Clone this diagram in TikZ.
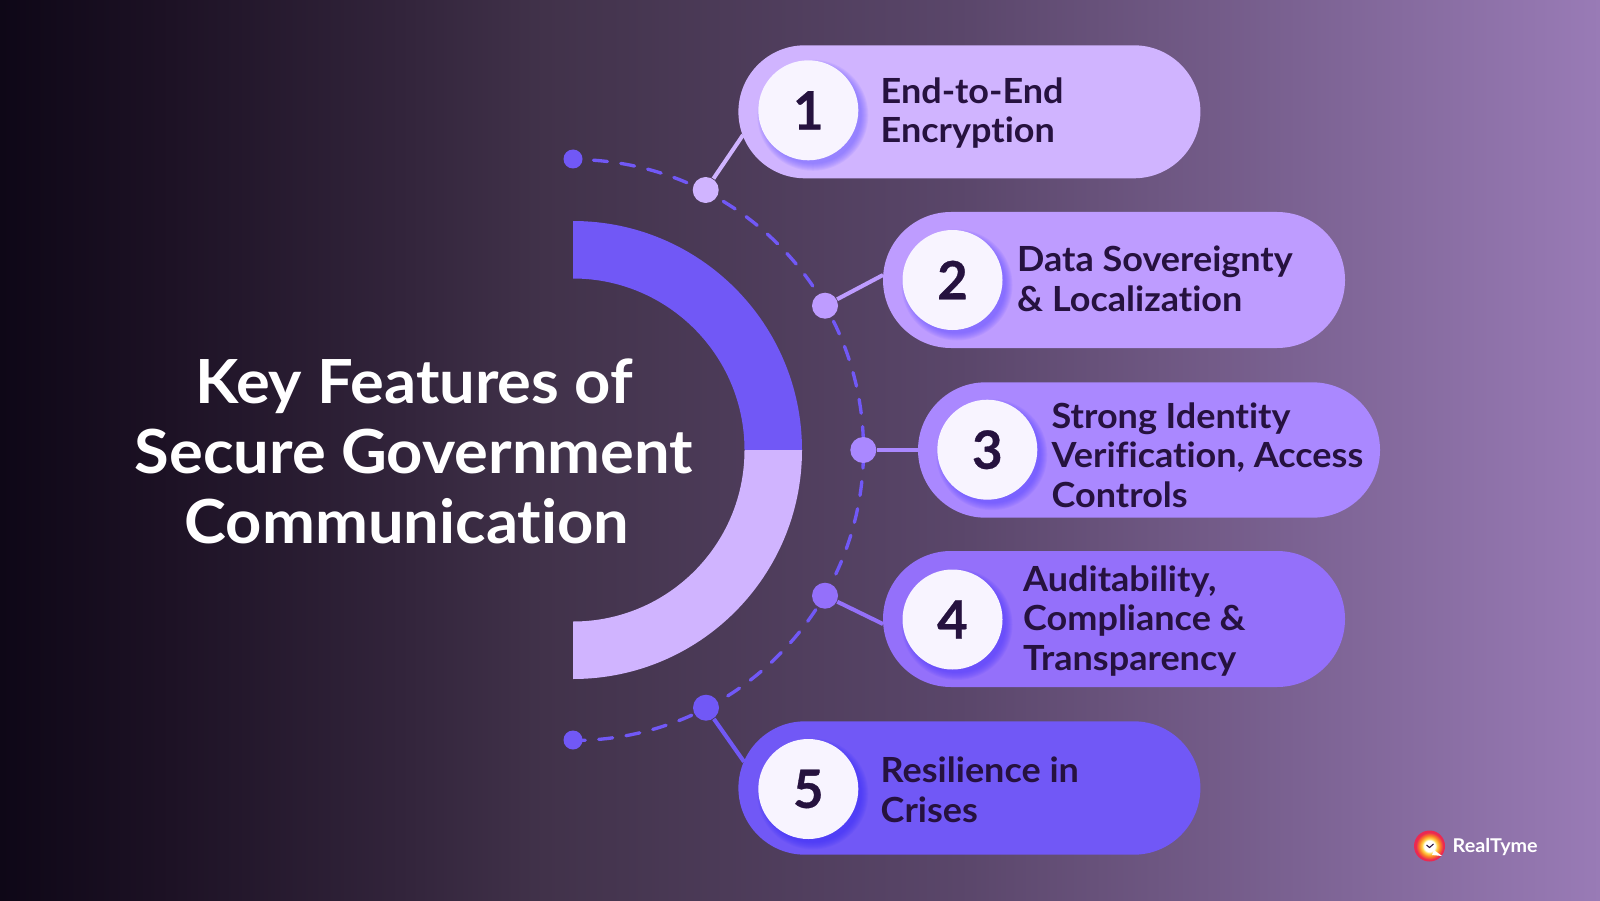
\documentclass[tikz,border=0pt]{standalone}
\usepackage{fontspec}
\setmainfont{Lato}[Ligatures=NoCommon,FakeStretch=1.04]
\newfontfamily\digitfont{Lato}[BoldFeatures={FakeBold=0.6}]
\usetikzlibrary{shapes.misc}
\definecolor{pillA}{HTML}{D0B4FF}
\definecolor{pillB}{HTML}{BE9CFF}
\definecolor{pillC}{HTML}{AA88FF}
\definecolor{pillD}{HTML}{9470FA}
\definecolor{pillE}{HTML}{7158F6}
\definecolor{inkdark}{HTML}{26123F}
\definecolor{discfill}{HTML}{F8F4FF}
\pgfdeclarehorizontalshading{bgfade}{100bp}{rgb(0bp)=(0.055,0.027,0.090);
  rgb(25bp)=(0.055,0.027,0.090);
  rgb(30bp)=(0.110,0.067,0.141);
  rgb(37.5bp)=(0.196,0.141,0.231);
  rgb(42bp)=(0.255,0.196,0.290);
  rgb(55bp)=(0.353,0.275,0.416);
  rgb(75bp)=(0.600,0.482,0.714);
  rgb(100bp)=(0.600,0.482,0.714)}
\pgfdeclareradialshading{logofade}{\pgfpoint{0bp}{0bp}}{rgb(0bp)=(1,1,1);
  rgb(9bp)=(1,1,1);
  rgb(12bp)=(1,0.85,0.30);
  rgb(17bp)=(0.98,0.50,0.15);
  rgb(22bp)=(0.92,0.16,0.32);
  rgb(50bp)=(0.92,0.16,0.32)}
\tikzset{
  pillshape/.style={rounded rectangle,inner sep=0pt,minimum width=4.62cm},
  discnode/.style={circle,fill=discfill,text=inkdark,inner sep=0pt,minimum size=1cm,font=\fontsize{15}{15}\selectfont\digitfont\bfseries},
  pilltext/.style={anchor=west,align=left,inner sep=0pt,text=inkdark,font=\fontsize{9.85}{11.3}\selectfont\bfseries},
  joint/.style={circle,inner sep=0pt,minimum size=0.26cm},
  tipdot/.style={circle,inner sep=0pt,minimum size=0.19cm,fill=pillE},
  link/.style={line width=1.15pt}
}
\begin{document}
\begin{tikzpicture}
\shade[shading=bgfade] (0,0) rectangle (16,9);
% Half ring
\fill[pillE] (5.73,6.79) arc[start angle=90,end angle=0,radius=2.29] -- (7.445,4.5) arc[start angle=0,end angle=90,radius=1.715] -- cycle;
\fill[pillA] (5.73,2.21) arc[start angle=-90,end angle=0,radius=2.29] -- (7.445,4.5) arc[start angle=0,end angle=-90,radius=1.715] -- cycle;
% Title
\node[align=center,text=white,font=\fontsize{17.3}{19.95}\selectfont\bfseries] (title) at (4.14,4.485) {Key Features of\\Secure Government\\Communication\hspace*{0.14cm}};
% Dashed arc
\node[tipdot] (tiptop) at (5.73,7.41) {};
\node[tipdot] (tipbot) at (5.73,1.60) {};
\draw[pillE,line width=0.95pt,line cap=round,dash pattern=on 0.14cm off 0.135cm,dash phase=0.07cm] (5.73,7.405) arc[start angle=90,end angle=-90,radius=2.905];
% Pills
\foreach \n/\col/\px/\py/\ph/\cx/\cy in {1/pillA/9.694/7.882/1.33/8.083/7.897,2/pillB/11.14/6.20/1.36/9.525/6.20,3/pillC/11.49/4.50/1.354/9.873/4.503,4/pillD/11.14/2.81/1.36/9.525/2.805,5/pillE/9.694/1.12/1.334/8.083/1.11} {
  \node[pillshape,fill=\col,minimum height=\ph cm] (pill\n) at (\px,\py) {};
  \foreach \r in {0.555,0.545,0.535,0.525,0.515,0.505,0.495,0.485} {\fill[\col!50!blue,opacity=0.09] (\cx+0.045,\cy-0.05) circle (\r);}
  \node[discnode] (disc\n) at (\cx,\cy) {\raisebox{-1pt}{\n}};
}
\node[pilltext] (label1) at (8.80,7.87) {End-to-End\\Encryption};
\node[pilltext] (label2) at (10.165,6.21) {Data Sovereignty\\\& Localization};
\node[pilltext] (label3) at (10.51,4.45) {Strong Identity\\Verification, Access\\Controls};
\node[pilltext] (label4) at (10.225,2.79) {Auditability,\\Compliance \&\\Transparency};
\node[pilltext] (label5) at (8.80,1.10) {Resilience in\\Crises};
% Joints and links
\foreach \n/\col/\jx/\jy/\ex/\ey in {1/pillA/7.057/7.10/7.43/7.65,2/pillB/8.25/5.943/8.83/6.25,3/pillC/8.633/4.50/9.18/4.50,4/pillD/8.25/3.043/8.83/2.76,5/pillE/7.06/1.923/7.44/1.383} {
  \node[joint,fill=\col] (joint\n) at (\jx,\jy) {};
  \coordinate (end\n) at (\ex,\ey);
  \draw[link,\col] (joint\n) -- (end\n);
}
% Logo
\shade[shading=logofade] (14.295,0.54) circle (0.155);
\fill[white] (14.34,0.50) -- (14.42,0.44) -- (14.32,0.45) -- cycle;
\draw[inkdark,line width=0.3pt] (14.265,0.55) -- (14.295,0.525) -- (14.335,0.56);
\node[anchor=west,inner sep=0pt,text=white,font=\fontsize{5.4}{7}\selectfont\bfseries] (brand) at (14.52,0.525) {RealTyme};
\end{tikzpicture}
\end{document}
